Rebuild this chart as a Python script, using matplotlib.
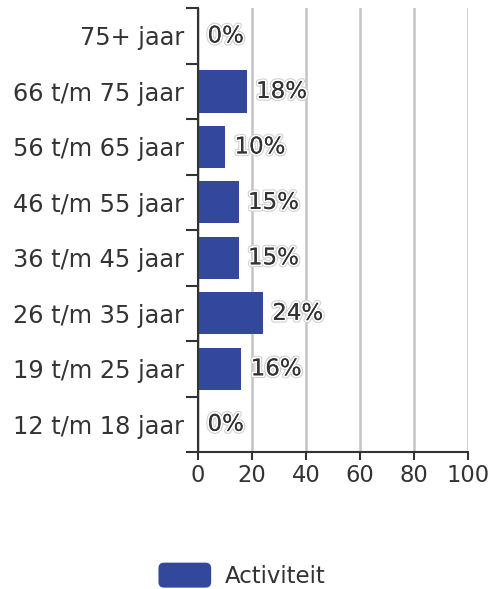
import numpy as np
import matplotlib.pyplot as plt
import matplotlib.patheffects as pe
from matplotlib.patches import FancyBboxPatch
from matplotlib.legend_handler import HandlerPatch

categories = ['12 t/m 18 jaar', '19 t/m 25 jaar', '26 t/m 35 jaar', '36 t/m 45 jaar',
              '46 t/m 55 jaar', '56 t/m 65 jaar', '66 t/m 75 jaar', '75+ jaar']
values = [0, 16, 24, 15, 15, 10, 18, 0]
xticks = [0, 20, 40, 60, 80, 100]

bar_color = '#33479d'
text_color = '#333333'


class RoundHandler(HandlerPatch):
    def create_artists(self, legend, orig_handle, xdescent, ydescent, width, height, fontsize, trans):
        p = FancyBboxPatch((-xdescent, -ydescent), width, height,
                           boxstyle='round,pad=0,rounding_size=4',
                           facecolor=bar_color, edgecolor='none', transform=trans)
        return [p]


fig = plt.figure(figsize=(4.94, 5.89), dpi=100)
ax = fig.add_axes([0.401, 0.2326, 0.546, 0.7534])

y = np.arange(len(categories))
bars = ax.barh(y, values, height=0.76, color=bar_color, label='Activiteit', zorder=2)

halo = [pe.withStroke(linewidth=4, foreground='#cfcfcf'), pe.withStroke(linewidth=2.5, foreground='white'), pe.Normal()]
for yi, v in zip(y, values):
    ax.text(v + 3.5, yi, f'{v}%', va='center', ha='left', fontsize=16.5, color=text_color,
            path_effects=halo, zorder=3)

ax.set_xlim(0, 100)
ax.set_ylim(-0.5, len(categories) - 0.5)
ax.set_xticks(xticks)
ax.set_yticks(y)
ax.set_yticklabels(categories)
ax.set_yticks(np.arange(-0.5, len(categories)), minor=True)
ax.tick_params(axis='y', which='major', length=0, pad=10, labelsize=17.3, labelcolor=text_color)
ax.tick_params(axis='y', which='minor', length=9, width=1.5, color=text_color)
ax.tick_params(axis='x', which='major', length=6, width=1.5, color=text_color, labelsize=16.3,
               labelcolor=text_color, pad=3)

ax.grid(axis='x', color='#c4c4c4', linewidth=1.8)
ax.set_axisbelow(True)
for s in ['top', 'right']:
    ax.spines[s].set_visible(False)
for s in ['left', 'bottom']:
    ax.spines[s].set_color(text_color)
    ax.spines[s].set_linewidth(1.5)

fig.legend(handles=[bars.patches[1]], labels=['Activiteit'], loc='lower center',
           bbox_to_anchor=(0.49, -0.033), frameon=False, fontsize=16.5,
           handlelength=2.3, handleheight=1.3, handletextpad=0.6,
           handler_map={bars.patches[1]: RoundHandler()}, labelcolor=text_color)

fig.savefig('out.png', dpi=100)
